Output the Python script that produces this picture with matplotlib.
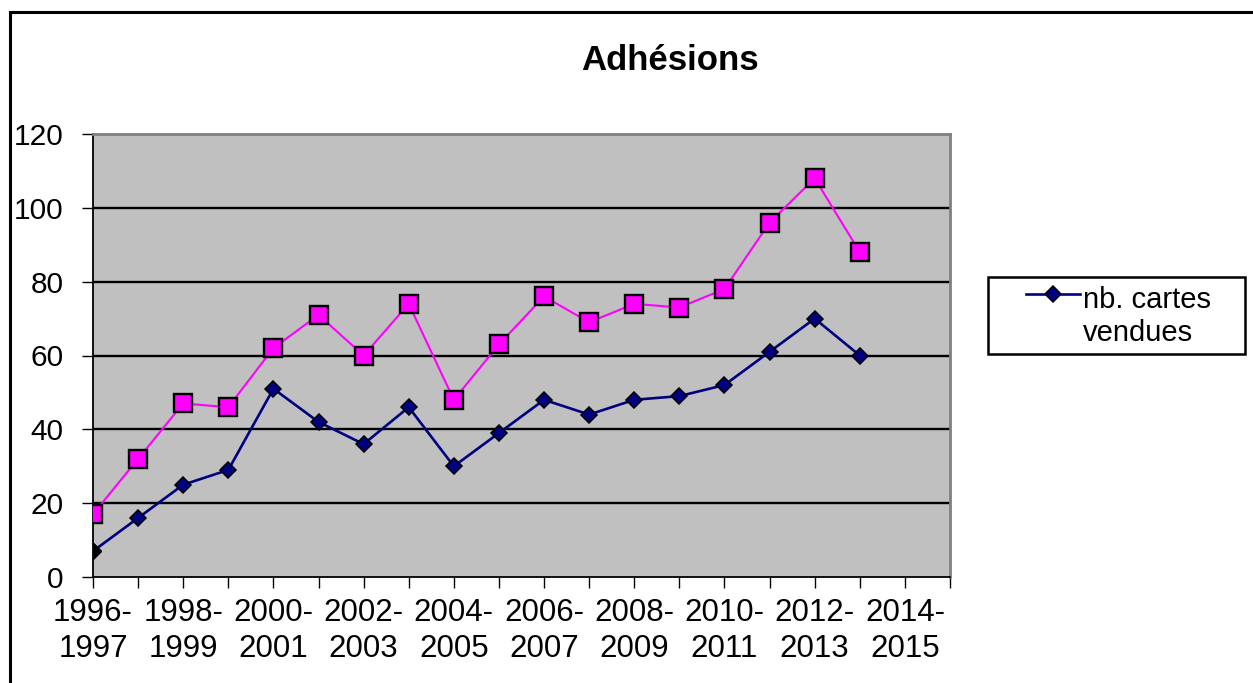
import matplotlib
matplotlib.use('Agg')
import matplotlib.pyplot as plt
from matplotlib.patches import Rectangle
from matplotlib.legend_handler import HandlerLine2D

# Data
saisons = [f"{y}-\n{y + 1}" for y in range(1996, 2016)]
cartes_vendues = [7, 16, 25, 29, 51, 42, 36, 46, 30, 39, 48, 44, 48, 49, 52, 61, 70, 60]
adhesions = [17, 32, 47, 46, 62, 71, 60, 74, 48, 63, 76, 69, 74, 73, 78, 96, 108, 88]
y_ticks = [0, 20, 40, 60, 80, 100, 120]

NAVY = '#000080'
PINK = '#FF00FF'
GRAY_BG = '#C0C0C0'

plt.rcParams['font.family'] = ['Liberation Sans', 'DejaVu Sans']

W, H = 1253, 683
fig = plt.figure(figsize=(W / 100, H / 100), dpi=100)
fig.patch.set_facecolor('white')


class TopLineHandler(HandlerLine2D):
    # put the legend symbol level with the first line of a two-line label
    def create_artists(self, legend, orig_handle, xdescent, ydescent,
                       width, height, fontsize, trans):
        arts = super().create_artists(legend, orig_handle, xdescent, ydescent,
                                      width, height, fontsize, trans)
        for a in arts:
            a.set_ydata([v + 0.8 * fontsize for v in a.get_ydata()])
        return arts


# outer chart border (right and bottom run off the picture)
fig.patches.append(Rectangle((10 / W, -0.1), 1.2, 1 - 12.5 / H + 0.1,
                             transform=fig.transFigure, fill=False,
                             edgecolor='black', linewidth=2.2))

ax = fig.add_axes([93 / W, 1 - 577 / H, (950 - 93) / W, (577 - 134) / H])
ax.set_facecolor(GRAY_BG)

x = list(range(len(saisons)))
xa = x[:len(adhesions)]
xc = x[:len(cartes_vendues)]

ax.plot(xa, adhesions, color=PINK, lw=1.5, marker='s', ms=12.5,
        mfc=PINK, mec='black', mew=1.7, zorder=3)
line_c, = ax.plot(xc, cartes_vendues, color=NAVY, lw=1.9, marker='D', ms=8.5,
                  mfc=NAVY, mec='black', mew=1.1, zorder=4,
                  label='nb. cartes\nvendues')
ax.plot(xc[:1], cartes_vendues[:1], ls='none', marker='D', ms=8.5,
        mfc='black', mec='black', zorder=5)

ax.set_xlim(0, len(saisons) - 1)
ax.set_ylim(0, 120)
ax.set_yticks(y_ticks)
for v in y_ticks[1:-1]:
    ax.axhline(v, color='black', lw=1.7, zorder=1)

ax.set_xticks(x)
ax.set_xticklabels([s if i % 2 == 0 else '' for i, s in enumerate(saisons)],
                   fontsize=22.5, linespacing=1.28)
ax.tick_params(axis='x', length=8, width=1, direction='out', pad=7)
ax.tick_params(axis='y', length=8, width=1, direction='out', labelsize=21.5, pad=13)

for side in ['top', 'right']:
    ax.spines[side].set_color('#808080')
    ax.spines[side].set_linewidth(2)
for side in ['left', 'bottom']:
    ax.spines[side].set_color('black')
    ax.spines[side].set_linewidth(1.3)

fig.text(670 / W, 1 - 61 / H, 'Adhésions', ha='center', va='center',
         fontsize=25, fontweight='bold')

# legend frame drawn by hand, legend items placed inside it
fig.patches.append(Rectangle((988 / W, 1 - 354 / H), (1245 - 988) / W, (354 - 277) / H,
                             transform=fig.transFigure, fill=False,
                             edgecolor='black', linewidth=1.8))
leg = ax.legend(handles=[line_c], loc='upper left',
                bbox_to_anchor=(1026 / W, 1 - 286 / H), bbox_transform=fig.transFigure,
                borderaxespad=0, borderpad=0, frameon=False, fontsize=21,
                handlelength=1.85, handletextpad=0.1, labelspacing=0.2,
                handler_map={line_c: TopLineHandler()})
for t in leg.get_texts():
    t.set_linespacing(1.25)

fig.savefig('out.png', dpi=100, facecolor='white')
